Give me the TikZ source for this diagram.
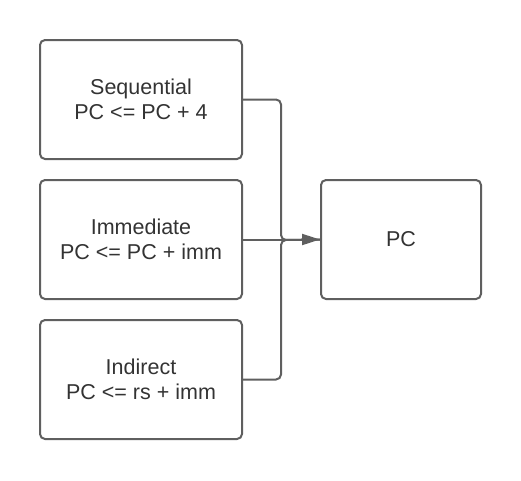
\documentclass[tikz,border=0pt]{standalone}
\usepackage{fontspec}
\setmainfont{Liberation Sans}
\usetikzlibrary{arrows.meta}
\definecolor{edgegray}{RGB}{95,95,95}
\definecolor{textgray}{RGB}{51,51,51}

\begin{document}
\begin{tikzpicture}[x=1pt,y=-1pt,
		box/.style={draw=edgegray, line width=2pt, rounded corners=5pt, minimum width=202pt, minimum height=119pt, align=center, text=textgray, font=\fontsize{21.5}{25}\selectfont},
		link/.style={draw=edgegray, line width=2pt, rounded corners=5pt}]
	\useasboundingbox (0,0) rectangle (521,480);
	\foreach \name/\ypos/\txt in {seq/99.5/{Sequential\\PC <= PC + 4}, imm/239.5/{Immediate\\PC <= PC + imm}, ind/379.5/{Indirect\\PC <= rs + imm}}{
			\node[box] (\name) at (141,\ypos) {\txt};
		}
	\node[box, minimum width=160pt] (pc) at (401,239.5) {PC};
	\coordinate (join) at (281,240);

	\draw[link] (seq.east) -| (join) -- (pc.west);
	\draw[link] (ind.east) -| (join) -- (pc.west);
	\draw[link, -{Triangle[length=18pt,width=11pt]}] (imm.east) -- (pc.west);
\end{tikzpicture}
\end{document}
